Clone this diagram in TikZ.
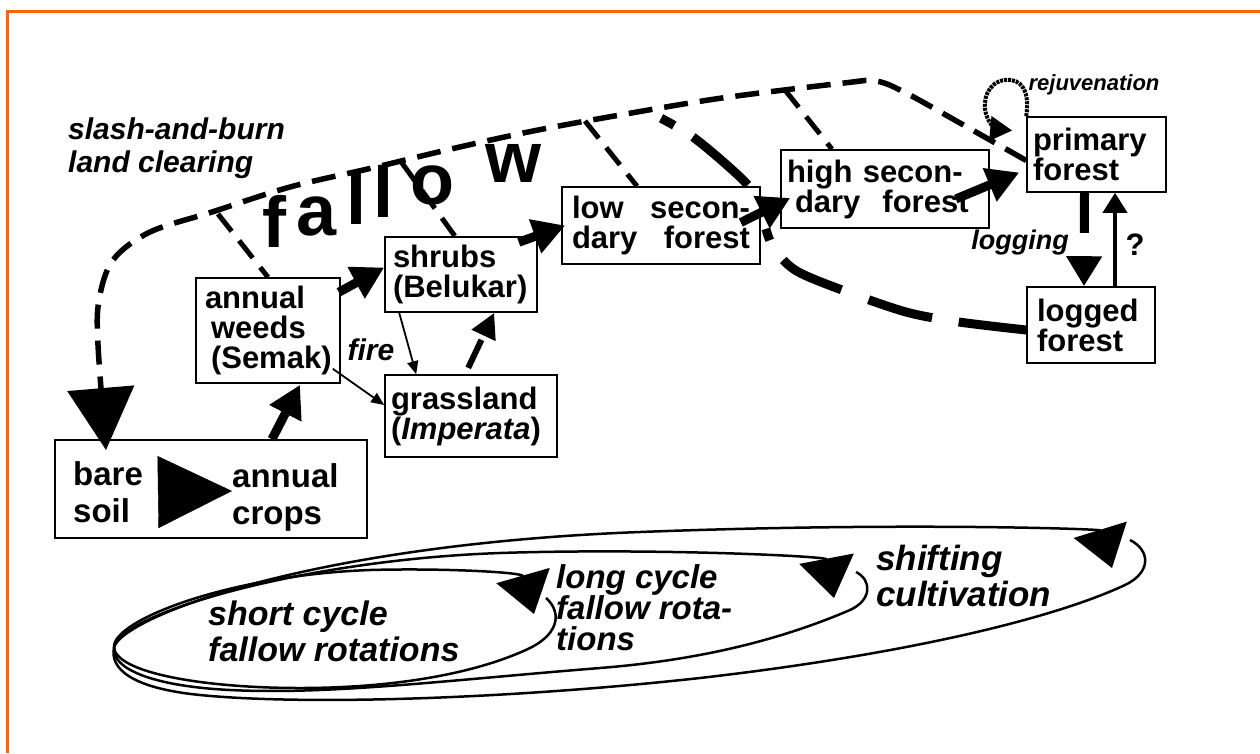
\documentclass[tikz,border=0pt]{standalone}
\usepackage{fontspec}
\setmainfont{Liberation Sans}
\usetikzlibrary{arrows.meta,calc}
\definecolor{frameorange}{RGB}{255,102,0}
\newcommand{\stagefont}{\fontsize{31}{30}\selectfont\bfseries}
\newcommand{\soilfont}{\fontsize{33}{37}\selectfont\bfseries}
\newcommand{\notefont}{\fontsize{35}{36}\selectfont\bfseries\itshape}
\newcommand{\fallowfont}{\fontsize{72}{72}\selectfont\bfseries}

\begin{document}
\begin{tikzpicture}[x=1pt, y=-1pt,
    stage/.style={draw, line width=1.6pt, fill=white, font=\stagefont, align=left, inner ysep=0pt},
    note/.style={font=\notefont, align=left, inner sep=0pt},
    succarrow/.style={line width=9pt, -{Triangle[length=32pt,width=34pt]}},
    firearrow/.style={line width=1.8pt, -{Triangle[length=13pt,width=11pt]}},
    fallowline/.style={line width=5.5pt, dash pattern=on 24pt off 12pt},
    branch/.style={line width=5pt, dash pattern=on 22pt off 12pt},
    cycleline/.style={line width=2.5pt, -{Triangle[length=40pt,width=55pt]}}]
\useasboundingbox (0,0) rectangle (1260,753);
\draw[frameorange, line width=3pt] (7,753) -- (7,11) -- (1260,11);

% stages
\node[stage, text width=132pt, inner xsep=6pt, minimum height=105pt] (weeds) at (268,330.5) {\hspace*{3pt}annual\\\hspace*{9pt}weeds\\\hspace*{9pt}\mbox{(Semak)}};
\node[stage, text width=136pt, inner xsep=8pt, minimum height=75pt] (shrubs) at (461,274.5) {shrubs\\(Belukar)};
\node[stage, text width=160pt, inner xsep=6pt, minimum height=82pt] (grass) at (471,416) {grassland\\(\textit{Imperata})};
\node[stage, text width=178pt, inner xsep=10pt, minimum height=77pt] (low) at (661,225.5) {low \hfill secon-\\dary \hfill forest};
\node[stage, text width=196pt, inner xsep=6pt, minimum height=78pt] (high) at (885,189) {high secon-\\\hspace*{8pt}dary\hspace{22pt}forest};
\node[stage, text width=127pt, inner xsep=6pt, minimum height=75pt] (primary) at (1096.5,154.5) {primary\\forest};
\node[stage, text width=108pt, inner xsep=10pt, minimum height=76pt] (logged) at (1091,325) {logged\\forest};
\node[stage, minimum width=312pt, minimum height=98pt] (bare) at (211,489) {};
\node[font=\soilfont, align=left, inner sep=0pt, anchor=west] (soil) at (73,492) {bare\\soil};
\node[font=\soilfont, align=left, inner sep=0pt, anchor=west] (crops) at (232,497) {annual\\crops};

% labels
\node[note, anchor=north west, font={\fontsize{30}{33}\selectfont\bfseries\itshape}] (slash) at (68,118) {slash-and-burn\\land clearing};
\node[note, anchor=north west, font={\fontsize{34}{36}\selectfont\bfseries\itshape}] (short) at (208,601) {short cycle\\fallow rotations};
\node[note, anchor=north west, font={\fontsize{33}{31}\selectfont\bfseries\itshape}] (long) at (556,564) {long cycle\\fallow rota-\\tions};
\node[note, anchor=north west] (shifting) at (876,545) {shifting\\cultivation};
\node[font={\fontsize{30}{30}\selectfont\bfseries\itshape}] (fire) at (371,350) {fire};
\node[font={\fontsize{27}{27}\selectfont\bfseries\itshape}] (logging) at (1020,243) {logging};
\node[font={\fontsize{22}{22}\selectfont\bfseries\itshape}] (rejuv) at (1094,85) {rejuvenation};
\node[font=\stagefont] (query) at (1135,245) {?};
\foreach \ch/\px [count=\i] in {f/274, a/317, l/356, l/383, o/432, w/513}
  \node[font=\fallowfont, anchor=base, inner sep=0pt] (fallow\i) at (\px,{247-0.27*(\px-274)}) {\ch};

% fallow arc and its branches
\coordinate (arcE) at ($(primary.west)+(0,6)$);
\coordinate (clear) at (106,450);
\draw[fallowline, -{Triangle[length=62pt,width=66pt]}] plot[smooth, tension=0.55] coordinates {(arcE) (967,127) (906,93) (876,81) (844,83) (722,98) (620,115) (533,131) (451,149) (372,168) (290,187) (212,212) (150,232) (113,260) (99,300) (98,345) (clear)};
\coordinate (fa1) at (218,214);
\coordinate (fa2) at (402,163);
\coordinate (fa3) at (585,121);
\coordinate (fa4) at (785,90);
\coordinate (fa5) at (645,110);
\draw[branch] (fa1) -- (weeds.north);
\draw[branch] (fa2) -- ($(shrubs.north)+(-6,0)$);
\draw[branch] (fa3) -- ($(low.north)+(-24,0)$);
\draw[branch] (fa4) -- ($(high.north)+(-53,0)$);
\coordinate (lw) at ($(logged.west)+(0,5)$);
\draw[line width=9pt, dash pattern=on 68pt off 27pt on 66pt off 29pt on 66pt off 24pt on 12pt off 48pt on 73pt off 22pt on 15pt off 30pt] plot[smooth, tension=0.5] coordinates {(lw) (959,322) (906,312) (842,290) (795,270) (772,245) (760,210) (748,185) (693,137) (fa5)};

% succession
\draw[-{Triangle[length=74pt,width=72pt]}] ($(soil.east)+(15,0)$) -- ($(crops.west)+(0,-6)$);
\draw[succarrow] ($(bare.north)+(61,0)$) -- ($(weeds.south)+(32,1)$);
\draw[succarrow] ($(weeds.north east)+(-2,15)$) -- ($(shrubs.west)+(0,-7)$);
\draw[succarrow] ($(shrubs.north east)+(-19,6)$) -- ($(low.west)+(4,0)$);
\draw[succarrow] ($(low.east)+(-20,-3)$) -- ($(high.west)+(10,9)$);
\draw[succarrow] ($(high.east)+(-34,10)$) -- ($(primary.west)+(-7,18)$);
\draw[firearrow] ($(shrubs.south west)+(15,0)$) -- ($(grass.north west)+(32,0)$);
\draw[firearrow] ($(weeds.south east)+(-8,-15)$) -- ($(grass.west)+(0,-11)$);
\draw[line width=6pt, dash pattern=on 0pt off 7pt on 31pt off 60pt, -{Triangle[length=25pt,width=25pt]}] ($(grass.north west)+(81,0)$) -- ($(shrubs.south west)+(110,0)$);
\draw[line width=9pt, dash pattern=on 40pt off 30pt, -{Triangle[length=30pt,width=34pt]}] ($(primary.south)+(-12,0)$) -- ($(logged.north)+(-7,0)$);
\draw[line width=4pt, -{Triangle[length=20pt,width=24pt]}] ($(logged.north)+(24,0)$) -- ($(primary.south)+(18.5,0)$);
\draw[line width=4pt, dash pattern=on 3pt off 1pt, -{Triangle[length=22pt,width=24pt]}] (primary.north west) .. controls (1030,92) and (1022,78) .. (1005,80) .. controls (988,82) and (982,100) .. (986,114) .. controls (989,124) and (996,129) .. ($(primary.west)+(-14,-24)$);

% rotation cycles
\draw[cycleline] (546,598) .. controls (560,610) and (562,632) .. (530,648) .. controls (480,672) and (400,688) .. (300,688) .. controls (200,688) and (115,672) .. (114,647) .. controls (113,620) and (230,575) .. (370,570) .. controls (440,568) and (522,572) .. (534,614);
\draw[cycleline] (856,572) .. controls (872,580) and (872,600) .. (850,610) .. controls (780,640) and (700,660) .. (600,668) .. controls (450,680) and (330,695) .. (230,690) .. controls (150,686) and (112,668) .. (114,648) .. controls (116,615) and (300,560) .. (500,553) .. controls (650,548) and (826,556) .. (834,598);
\draw[cycleline] (1130,540) .. controls (1150,550) and (1152,572) .. (1125,585) .. controls (1050,620) and (900,655) .. (700,678) .. controls (500,700) and (300,705) .. (200,695) .. controls (130,688) and (110,668) .. (114,648) .. controls (118,620) and (300,545) .. (640,532) .. controls (900,522) and (1100,529) .. (1112,568);
\end{tikzpicture}
\end{document}
